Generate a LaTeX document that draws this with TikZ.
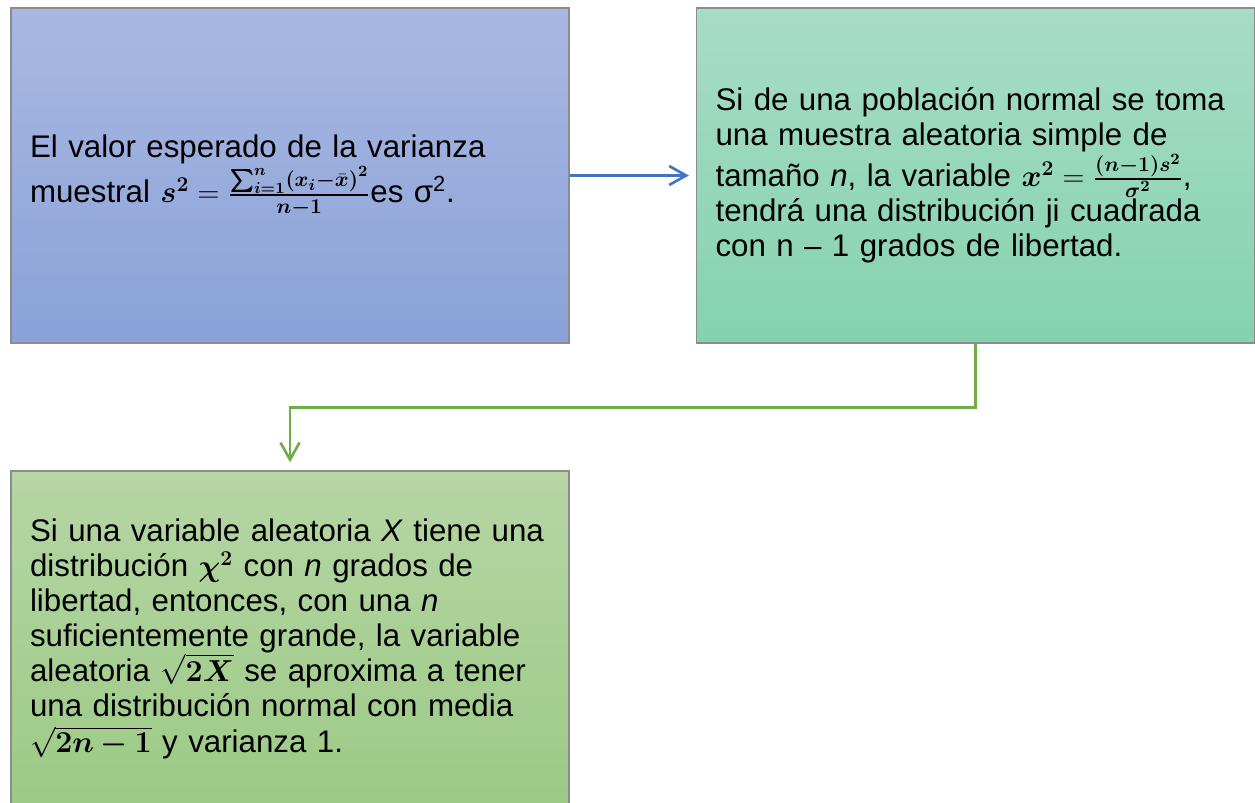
\documentclass[tikz,border=0pt]{standalone}
\usepackage{amsmath, amssymb}
\usepackage{bm}
\usepackage{fontspec}
\setmainfont{Liberation Sans}
\usetikzlibrary{arrows.meta, positioning, calc}
\definecolor{azularr}{HTML}{A9B8E2}
\definecolor{azulab}{HTML}{8AA2D8}
\definecolor{mentaarr}{HTML}{A7DCC7}
\definecolor{mentaab}{HTML}{85D2AF}
\definecolor{verdearr}{HTML}{B6D6A5}
\definecolor{verdeab}{HTML}{9CCA85}
\definecolor{bordec}{HTML}{8C8C8C}
\definecolor{flechaaz}{HTML}{4472C4}
\definecolor{flechave}{HTML}{70AD47}
\newcommand{\caja}[5]{%
  \node[caja, top color=#3, bottom color=#4] (#1) at #2 {#5};
}

\begin{document}
\begin{tikzpicture}[x=0.02cm, y=0.02cm,
    font=\fontsize{17.8}{20}\selectfont,
    caja/.style={rectangle, draw=bordec, line width=0.8pt,
      minimum width=11.16cm, minimum height=6.7cm,
      text width=10.4cm, inner xsep=0.38cm, align=left},
    flecha/.style={-{Straight Barb[length=0.34cm, width=0.38cm]},
      line width=1.5pt}]
  \useasboundingbox (0,0) rectangle (1255,802);
  \clip (0,0) rectangle (1255,802);
  \caja{varianza}{(290,626.5)}{azularr}{azulab}{%
    El valor esperado de la varianza\\
    muestral $\bm{s^2} = \frac{\bm{\sum_{i=1}^{n}(x_i-\bar{x})^2}}{\bm{n-1}}$es σ\textsuperscript{2}.}
  \caja{poblacion}{(975.5,626.5)}{mentaarr}{mentaab}{%
    Si de una población normal se toma\\
    una muestra aleatoria simple de\\
    tamaño \textit{n}, la variable $\bm{x^2} = \frac{\bm{(n-1)s^2}}{\bm{\sigma^2}}$,\\
    tendrá una distribución ji cuadrada\\
    con n – 1 grados de libertad.}
  \caja{normal}{(290,163.5)}{verdearr}{verdeab}{%
    Si una variable aleatoria \textit{X} tiene una\\
    distribución $\bm{\chi^2}$ con \textit{n} grados de\\
    libertad, entonces, con una \textit{n}\\
    suficientemente grande, la variable\\
    aleatoria $\sqrt{\bm{2X}}$ se aproxima a tener\\
    una distribución normal con media\\
    $\sqrt{\bm{2n-1}}$ y varianza 1.}
  \draw[flecha, flechaaz, shorten >=0.14cm] (varianza) -- (poblacion);
  \draw[flecha, flechave, shorten >=0.16cm]
    (poblacion.south) -- ++(0,-64) -| (normal.north);
\end{tikzpicture}
\end{document}
